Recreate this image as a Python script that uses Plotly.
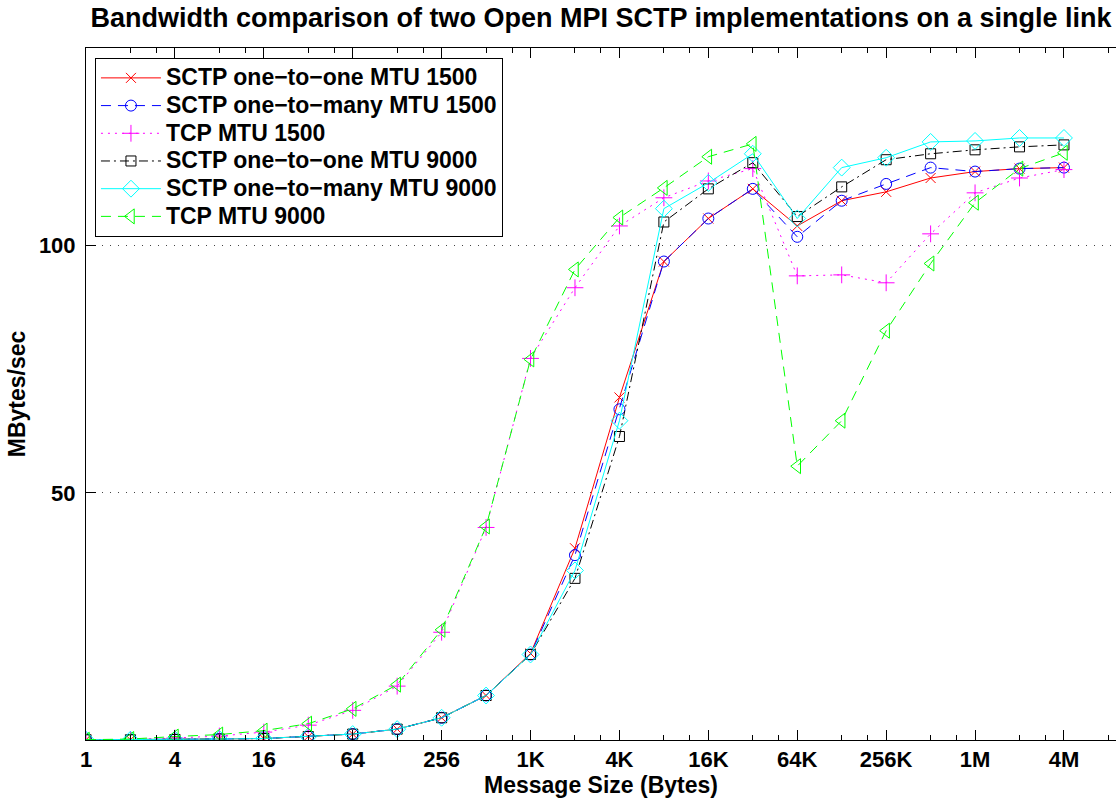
import plotly.graph_objects as go

# Message sizes (bytes)
sizes = [1, 2, 4, 8, 16, 32, 64, 128, 256, 512, 1024, 2048, 4096, 8192, 16384,
         32768, 65536, 131072, 262144, 524288, 1048576, 2097152, 4194304]

tick_vals = [1, 4, 16, 64, 256, 1024, 4096, 16384, 65536, 262144, 1048576, 4194304]
tick_text = ["1", "4", "16", "64", "256", "1K", "4K", "16K", "64K", "256K", "1M", "4M"]
minor_vals = [2, 3, 8, 12, 32, 48, 128, 192, 512, 768, 2048, 3072, 8192, 12288,
              32768, 49152, 131072, 196608, 524288, 786432, 2097152, 3145728,
              8388608]

sctp_o2o_1500 = [0.05, 0.05, 0.1, 0.2, 0.3, 0.7, 1.2, 2.2, 4.5, 9.0, 17.5, 38.8, 69.3,
                 96.8, 105.5, 111.5, 104.0, 109.1, 110.9, 113.7, 115.0, 115.6, 115.8]
sctp_o2m_1500 = [0.05, 0.05, 0.1, 0.2, 0.3, 0.7, 1.2, 2.2, 4.5, 9.0, 17.3, 37.4, 66.9,
                 96.8, 105.5, 111.5, 101.8, 109.1, 112.5, 115.8, 115.0, 115.6, 115.8]
tcp_1500 = [0.05, 0.1, 0.4, 0.8, 1.6, 3.0, 6.0, 10.9, 21.8, 43.0, 77.2, 91.5, 104.0,
            109.7, 113.1, 115.6, 93.9, 94.1, 92.5, 102.4, 110.7, 113.7, 115.4]
sctp_o2o_9000 = [0.05, 0.05, 0.1, 0.2, 0.3, 0.7, 1.2, 2.2, 4.5, 9.0, 17.3, 32.7, 61.4,
                 104.8, 111.5, 116.8, 105.9, 111.9, 117.4, 118.6, 119.4, 120.0, 120.4]
sctp_o2m_9000 = [0.05, 0.05, 0.1, 0.2, 0.3, 0.7, 1.2, 2.2, 4.5, 9.0, 17.3, 34.3, 64.6,
                 107.5, 112.7, 118.6, 105.5, 115.8, 117.8, 121.0, 121.2, 121.8, 121.8]
tcp_9000 = [0.05, 0.2, 0.7, 1.1, 1.9, 3.3, 6.3, 11.2, 22.3, 43.2, 77.0, 95.2, 105.7,
            111.7, 118.0, 120.6, 55.4, 64.6, 82.8, 96.4, 108.7, 115.6, 118.8]

names = ["SCTP one\u2212to\u2212one MTU 1500", "SCTP one\u2212to\u2212many MTU 1500",
         "TCP MTU 1500", "SCTP one\u2212to\u2212one MTU 9000",
         "SCTP one\u2212to\u2212many MTU 9000", "TCP MTU 9000"]
series = [sctp_o2o_1500, sctp_o2m_1500, tcp_1500, sctp_o2o_9000, sctp_o2m_9000, tcp_9000]
colors = ["#ff0000", "#0000ff", "#ff00ff", "#000000", "#00ffff", "#00ff00"]
dashes = ["solid", "10px,7px", "2px,5px", "9px,4px,2px,4px", "solid", "10px,7px"]
symbols = ["x-thin-open", "circle-open", "cross-thin-open", "square-open",
           "diamond-open", "triangle-left-open"]
msizes = [10, 11, 12, 10, 13, 13]

fig = go.Figure()
for nm, ys, c, d, s, ms in zip(names, series, colors, dashes, symbols, msizes):
    fig.add_trace(go.Scatter(
        x=sizes, y=ys, name='<span style="font-size:23px">' + nm + '</span>',
        mode="lines+markers",
        line=dict(color=c, width=1, dash=d),
        marker=dict(symbol=s, size=ms, color=c, line=dict(color=c, width=1)),
    ))

font_family = "Liberation Sans, Arial, sans-serif"

fig.update_layout(
    width=1116, height=800,
    margin=dict(l=86, r=0, t=48, b=60),
    paper_bgcolor="white", plot_bgcolor="white",
    font=dict(family=font_family, size=22, color="black", weight=700),
    title=dict(text="Bandwidth comparison of two Open MPI SCTP implementations on a single link",
               x=0.5, xref="paper", xanchor="center", y=1 - 18 / 800, yref="container",
               yanchor="middle",
               font=dict(family=font_family, size=27, color="black", weight=700)),
    showlegend=True,
    legend=dict(x=0.0087, y=0.9855, xanchor="left", yanchor="top",
                bgcolor="white", bordercolor="black", borderwidth=1,
                itemwidth=60,
                font=dict(family=font_family, size=19, color="black", weight=700),
                traceorder="normal"),
)

fig.update_xaxes(
    type="log", range=[0, 6.975],
    tickmode="array", tickvals=tick_vals, ticktext=tick_text,
    ticks="inside", ticklen=10, tickwidth=1, tickcolor="black",
    showline=True, linecolor="black", linewidth=1, mirror="allticks",
    showgrid=False, zeroline=False,
    minor=dict(tickmode="array", tickvals=minor_vals, ticks="inside", ticklen=5,
               tickwidth=1, tickcolor="black", showgrid=False),
    title=dict(text="Message Size (Bytes)", standoff=4,
               font=dict(family=font_family, size=23, color="black", weight=700)),
    tickfont=dict(family=font_family, size=22, color="black", weight=700),
)

fig.update_yaxes(
    range=[0, 140], tickmode="array", tickvals=[50, 100],
    ticks="inside", ticklen=10, tickwidth=1, tickcolor="black",
    showline=True, linecolor="black", linewidth=1, mirror=False,
    showgrid=True, gridcolor="#444444", gridwidth=1, griddash="1px,7px",
    zeroline=False, ticklabelstandoff=5,
    title=dict(text="MBytes/sec", standoff=6,
               font=dict(family=font_family, size=23, color="black", weight=700)),
    tickfont=dict(family=font_family, size=22, color="black", weight=700),
)

fig.write_html("out.html")
